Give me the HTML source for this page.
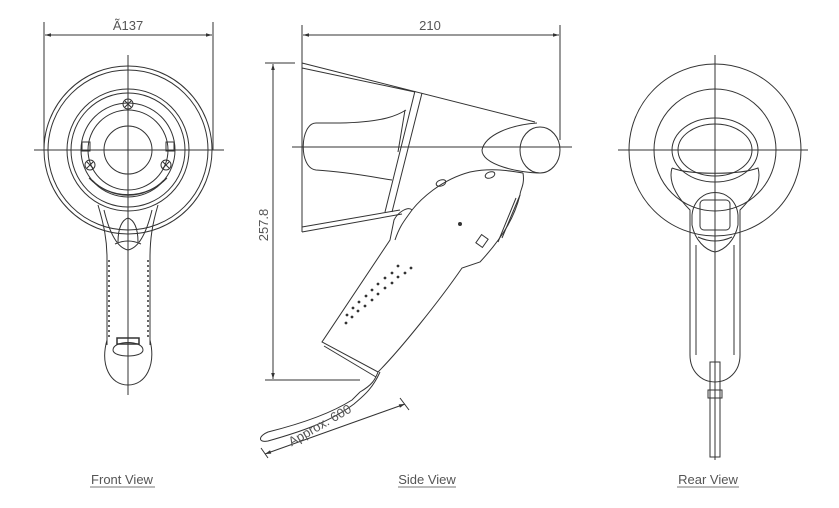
<!DOCTYPE html>
<html><head><meta charset="utf-8"><style>
html,body{margin:0;padding:0;background:#fff;}
svg{display:block;}
text{font-family:"Liberation Sans",sans-serif;fill:#555;}
</style></head><body>
<svg width="839" height="508" viewBox="0 0 839 508" xmlns="http://www.w3.org/2000/svg">
<defs>
<marker id="ar" viewBox="0 0 10 10" refX="10" refY="5" markerWidth="9" markerHeight="6" orient="auto-start-reverse"><path d="M0,2 L10,5 L0,8 z" fill="#333"/></marker>
</defs>
<g fill="none" stroke="#333" stroke-width="1">
<!-- FRONT VIEW -->
<line x1="44" y1="22" x2="44" y2="150"/>
<line x1="213" y1="22" x2="213" y2="150"/>
<line x1="45" y1="35" x2="212" y2="35" marker-start="url(#ar)" marker-end="url(#ar)"/>
<circle cx="128" cy="150" r="84"/>
<circle cx="128" cy="150" r="80"/>
<circle cx="128" cy="150" r="61"/>
<circle cx="128" cy="150" r="57"/>
<circle cx="128" cy="150" r="47"/>
<circle cx="128" cy="150" r="40"/>
<circle cx="128" cy="150" r="24"/>
<path d="M92,180 A50,50 0 0 0 164,180"/>
<path d="M89,178 A54,54 0 0 0 167,178"/>
<g>
<circle cx="128" cy="104" r="5"/><path d="M125,101 l6,6 M131,101 l-6,6"/>
<circle cx="90" cy="165" r="5"/><path d="M87,162 l6,6 M93,162 l-6,6"/>
<circle cx="166" cy="165" r="5"/><path d="M163,162 l6,6 M169,162 l-6,6"/>
</g>
<rect x="82" y="142" width="8" height="9"/>
<rect x="166" y="142" width="8" height="9"/>
<path d="M98,205 C104,225 107,240 107,258 L107,345 M158,205 C152,225 150,240 150,258 L150,345"/>
<path d="M104,210 C110,235 118,248 128,250 C138,248 146,235 152,210"/>
<path d="M118,242 C118,228 122,220 128,218 C134,220 138,228 138,242"/>
<path d="M115,244 Q128,238 141,244"/>
<path d="M109,260 L109,340 M148,260 L148,340" stroke-dasharray="2,3" stroke-width="1.5"/>
<path d="M107,340 C100,365 110,385 128,385 C146,385 156,365 150,340"/>
<path d="M113,350 C113,340 143,340 143,350 C143,358 113,358 113,350"/>
<rect x="117" y="338" width="22" height="6" stroke-width="1.5"/>
<line x1="34" y1="150" x2="224" y2="150"/>
<line x1="128" y1="55" x2="128" y2="395"/>

<!-- SIDE VIEW -->
<line x1="302" y1="25" x2="302" y2="66"/>
<line x1="560" y1="25" x2="560" y2="140"/>
<line x1="303" y1="35" x2="559" y2="35" marker-start="url(#ar)" marker-end="url(#ar)"/>
<line x1="265" y1="63" x2="295" y2="63"/>
<line x1="265" y1="380" x2="360" y2="380"/>
<line x1="273" y1="64" x2="273" y2="379" marker-start="url(#ar)" marker-end="url(#ar)"/>
<path d="M302,63 L302,232 M302,63 L535,122 M302,68 L415,92 M302,232 L402,214 M302,227 L400,210"/>
<path d="M415,91 L385,212 M422,93 L392,212"/>
<path d="M406,110 C398,115 385,122 340,123 L316,123 C300,123 298,168 316,170 C350,172 378,178 392,180"/>
<path d="M405,110 L398,152"/>
<path d="M537,123 C510,125 485,135 482,150 C482,165 520,173 540,173"/>
<ellipse cx="540" cy="150" rx="20" ry="23"/>
<path d="M523,173 C525,185 520,190 520,195 C515,215 505,235 480,262 L462,268 C440,300 400,350 378,372 L322,342 L390,240 L394,220 C398,212 408,206 412,210 C420,200 440,180 470,172 C490,168 505,170 523,173"/>
<path d="M324,346 L376,377"/>
<path d="M412,210 C405,220 400,225 395,240"/>
<path d="M520,195 L502,238 M516,198 L498,242"/>
<rect x="478" y="236" width="8" height="10" transform="rotate(35 482 241)"/>
<ellipse cx="441" cy="183" rx="5" ry="3" transform="rotate(-20 441 183)"/>
<ellipse cx="490" cy="175" rx="5" ry="3" transform="rotate(-20 490 175)"/>
<circle cx="460" cy="224" r="1.5" fill="#333"/>
<g fill="#333" stroke="none">
<circle cx="411" cy="268" r="1.4"/><circle cx="405" cy="273" r="1.4"/><circle cx="398" cy="277" r="1.4"/><circle cx="392" cy="283" r="1.4"/><circle cx="385" cy="288" r="1.4"/><circle cx="378" cy="294" r="1.4"/><circle cx="372" cy="300" r="1.4"/><circle cx="365" cy="306" r="1.4"/><circle cx="358" cy="311" r="1.4"/><circle cx="352" cy="317" r="1.4"/><circle cx="346" cy="323" r="1.4"/>
<circle cx="398" cy="266" r="1.4"/><circle cx="392" cy="273" r="1.4"/><circle cx="385" cy="278" r="1.4"/><circle cx="378" cy="284" r="1.4"/><circle cx="372" cy="290" r="1.4"/><circle cx="366" cy="296" r="1.4"/><circle cx="359" cy="302" r="1.4"/><circle cx="353" cy="308" r="1.4"/><circle cx="347" cy="315" r="1.4"/>
</g>
<path d="M378,372 C375,380 372,385 360,392 L352,400 C330,414 300,424 268,432 C258,436 258,443 268,441 C300,432 330,422 354,404 C362,397 372,390 380,372"/>
<line x1="261" y1="448" x2="268" y2="458"/>
<line x1="400" y1="398" x2="409" y2="410"/>
<line x1="265" y1="454" x2="405" y2="404" marker-start="url(#ar)" marker-end="url(#ar)"/>
<line x1="292" y1="147" x2="572" y2="147"/>

<!-- REAR VIEW -->
<circle cx="715" cy="150" r="86"/>
<circle cx="715" cy="150" r="61"/>
<ellipse cx="715" cy="150" rx="43" ry="32"/>
<ellipse cx="715" cy="150" rx="37" ry="26"/>
<path d="M672,168 C668,182 676,196 690,210 L690,355 C690,372 702,382 715,382 C728,382 740,372 740,355 L740,210 C754,196 762,182 758,168 C740,175 690,175 672,168"/>
<path d="M692,215 C695,185 735,185 738,215 L738,225 C735,240 725,250 715,252 C705,250 695,240 692,225 Z"/>
<path d="M696,245 L696,355 M734,245 L734,355"/>
<rect x="700" y="200" width="30" height="30" rx="4"/>
<path d="M698,237 Q715,245 732,237"/>
<rect x="710" y="362" width="10" height="95"/>
<rect x="708" y="390" width="14" height="8"/>
<line x1="618" y1="150" x2="808" y2="150"/>
<line x1="715" y1="55" x2="715" y2="460"/>

<!-- label underlines -->
<line x1="90" y1="487" x2="155" y2="487" stroke="#777"/>
<line x1="398" y1="487" x2="456" y2="487" stroke="#777"/>
<line x1="677" y1="487" x2="739" y2="487" stroke="#777"/>
</g>
<text x="128" y="30" font-size="13" text-anchor="middle">Ã137</text>
<text x="430" y="30" font-size="13" text-anchor="middle">210</text>
<text x="268" y="225" font-size="13" text-anchor="middle" transform="rotate(-90 268 225)">257.8</text>
<text x="322" y="429" font-size="13" text-anchor="middle" transform="rotate(-30 322 429)">Approx. 600</text>
<text x="122" y="484" font-size="13" text-anchor="middle">Front View</text>
<text x="427" y="484" font-size="13" text-anchor="middle">Side View</text>
<text x="708" y="484" font-size="13" text-anchor="middle">Rear View</text>
</svg>
</body></html>
